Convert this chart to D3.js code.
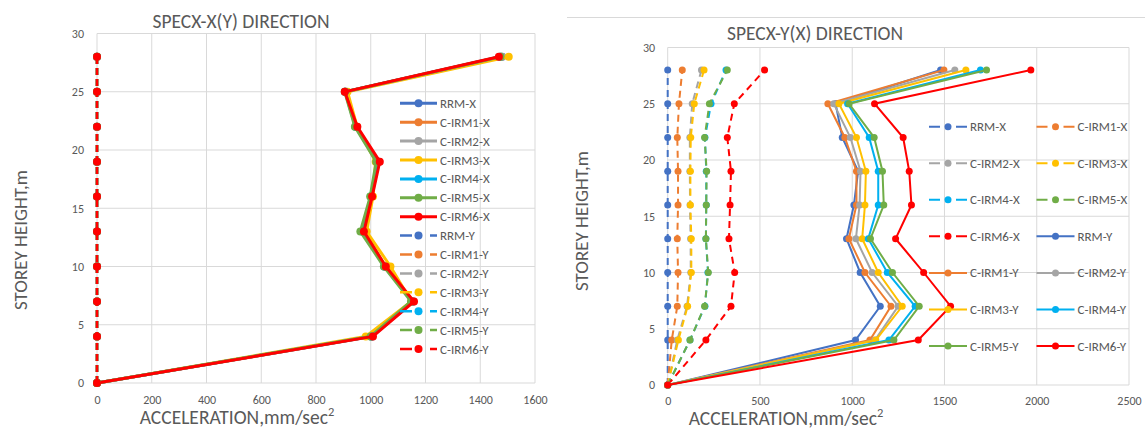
<!DOCTYPE html>
<html>
<head>
<meta charset="utf-8">
<script src="https://cdn.jsdelivr.net/npm/d3@7"></script>
<style>
  body { margin: 0; background: #fff; }
  svg text { font-family: Carlito, Lato, sans-serif; fill: #595959; }
</style>
</head>
<body>
<svg id="chart" width="1145" height="430"></svg>
<script>
// storey levels (m)
const heights = [0, 4, 7, 10, 13, 16, 19, 22, 25, 28];
const models = ["RRM", "C-IRM1", "C-IRM2", "C-IRM3", "C-IRM4", "C-IRM5", "C-IRM6"];
const colors = ["#4472c4", "#ed7d31", "#a5a5a5", "#ffc000", "#00b0f0", "#70ad47", "#ff0000"];

// SPECX-X(Y) : X direction
const leftRRM_X   = [0, 1005, 1155, 1050, 972, 1003, 1030, 948, 907, 1480];
const leftIRM1_X  = [0, 1003, 1153, 1052, 973, 1002, 1028, 947, 907, 1476];
const leftIRM2_X  = [0, 1000, 1150, 1055, 975, 1002, 1025, 946, 908, 1478];
const leftIRM3_X  = [0, 982, 1148, 1072, 985, 1008, 1018, 950, 915, 1504];
const leftIRM4_X  = [0, 1002, 1152, 1050, 968, 1000, 1024, 944, 906, 1472];
const leftIRM5_X  = [0, 1000, 1147, 1048, 962, 998, 1020, 942, 905, 1474];
const leftIRM6_X  = [0, 1008, 1158, 1055, 975, 1005, 1033, 951, 905, 1468];
// SPECX-X(Y) : Y direction
const leftRRM_Y   = [0, 0, 0, 0, 0, 0, 0, 0, 0, 0];
const leftIRM1_Y  = [0, 0, 0, 0, 0, 0, 0, 0, 0, 0];
const leftIRM2_Y  = [0, 0, 0, 0, 0, 0, 0, 0, 0, 0];
const leftIRM3_Y  = [0, 0, 0, 0, 0, 0, 0, 0, 0, 0];
const leftIRM4_Y  = [0, 0, 0, 0, 0, 0, 0, 0, 0, 0];
const leftIRM5_Y  = [0, 0, 0, 0, 0, 0, 0, 0, 0, 0];
const leftIRM6_Y  = [0, 0, 0, 0, 0, 0, 0, 0, 0, 0];

// SPECX-Y(X) : X direction
const rightRRM_X  = [0, 0, 0, 0, 0, 0, 0, 0, 0, 0];
const rightIRM1_X = [0, 22, 52, 56, 52, 56, 56, 52, 61, 79];
const rightIRM2_X = [0, 52, 105, 125, 124, 121, 120, 120, 133, 183];
const rightIRM3_X = [0, 58, 108, 128, 128, 123, 123, 125, 144, 197];
const rightIRM4_X = [0, 121, 202, 218, 207, 209, 209, 202, 235, 316];
const rightIRM5_X = [0, 121, 200, 220, 207, 209, 211, 200, 226, 323];
const rightIRM6_X = [0, 207, 343, 363, 332, 338, 343, 323, 361, 525];
// SPECX-Y(X) : Y direction
const rightRRM_Y  = [0, 1018, 1152, 1043, 969, 1009, 1032, 946, 910, 1479];
const rightIRM1_Y = [0, 1096, 1210, 1069, 982, 1023, 1023, 960, 868, 1497];
const rightIRM2_Y = [0, 1123, 1249, 1108, 1020, 1040, 1045, 990, 900, 1556];
const rightIRM3_Y = [0, 1128, 1271, 1141, 1054, 1069, 1074, 1023, 928, 1616];
const rightIRM4_Y = [0, 1199, 1341, 1190, 1087, 1141, 1141, 1092, 975, 1695];
const rightIRM5_Y = [0, 1226, 1363, 1218, 1099, 1171, 1164, 1119, 983, 1728];
const rightIRM6_Y = [0, 1358, 1533, 1387, 1235, 1321, 1309, 1276, 1121, 1968];

const yTicks = [0, 5, 10, 15, 20, 25, 30];
const leftXTicks = [0, 200, 400, 600, 800, 1000, 1200, 1400, 1600];
const rightXTicks = [0, 500, 1000, 1500, 2000, 2500];

const leftX = [leftRRM_X, leftIRM1_X, leftIRM2_X, leftIRM3_X, leftIRM4_X, leftIRM5_X, leftIRM6_X];
const leftY = [leftRRM_Y, leftIRM1_Y, leftIRM2_Y, leftIRM3_Y, leftIRM4_Y, leftIRM5_Y, leftIRM6_Y];
const rightX = [rightRRM_X, rightIRM1_X, rightIRM2_X, rightIRM3_X, rightIRM4_X, rightIRM5_X, rightIRM6_X];
const rightY = [rightRRM_Y, rightIRM1_Y, rightIRM2_Y, rightIRM3_Y, rightIRM4_Y, rightIRM5_Y, rightIRM6_Y];

const svg = d3.select("#chart");

function drawChart(cfg) {
    const g = svg.append("g");

    const x = d3.scaleLinear().domain([0, cfg.xTicks[cfg.xTicks.length - 1]]).range([cfg.left, cfg.right]);
    const y = d3.scaleLinear().domain([0, 30]).range([cfg.bottom, cfg.top]);

    // gridlines
    g.append("g").selectAll("line")
        .data(cfg.xTicks)
        .enter().append("line")
        .attr("x1", d => x(d)).attr("x2", d => x(d))
        .attr("y1", cfg.top).attr("y2", cfg.bottom)
        .attr("stroke", "#d9d9d9").attr("stroke-width", 1);
    g.append("g").selectAll("line")
        .data(yTicks)
        .enter().append("line")
        .attr("y1", d => y(d)).attr("y2", d => y(d))
        .attr("x1", cfg.left).attr("x2", cfg.right)
        .attr("stroke", "#d9d9d9").attr("stroke-width", 1);

    // axes
    g.append("g")
        .attr("transform", `translate(0,${cfg.bottom})`)
        .call(d3.axisBottom(x).tickValues(cfg.xTicks).tickFormat(d3.format("d")).tickSize(0).tickPadding(cfg.xPad));
    g.append("g")
        .attr("transform", `translate(${cfg.left},0)`)
        .call(d3.axisLeft(y).tickValues(yTicks).tickFormat(d3.format("d")).tickSize(0).tickPadding(cfg.yPad));
    g.selectAll(".domain").remove();
    g.selectAll(".tick text").style("font-size", "12px");

    // series
    const line = d3.line()
        .x(d => x(d.v))
        .y(d => y(d.h));

    cfg.series.forEach(s => {
        const pts = s.values.map((v, i) => ({v: v, h: heights[i]}));
        g.append("path")
            .datum(pts)
            .attr("fill", "none")
            .attr("stroke", s.color)
            .attr("stroke-width", s.dashed ? cfg.dashWidth : cfg.lineWidth)
            .attr("stroke-dasharray", s.dashed ? cfg.dash : null)
            .attr("d", line);
        g.selectAll(null)
            .data(pts)
            .enter().append("circle")
            .attr("cx", d => x(d.v))
            .attr("cy", d => y(d.h))
            .attr("r", cfg.r)
            .attr("fill", s.color);
    });

    // titles
    g.append("text")
        .attr("x", cfg.titleX).attr("y", cfg.titleY)
        .attr("text-anchor", "middle")
        .style("font-size", "19.5px")
        .text(cfg.title);

    const xl = g.append("text")
        .attr("x", cfg.xLabelX).attr("y", cfg.xLabelY)
        .attr("text-anchor", "middle")
        .style("font-size", "19.5px");
    xl.append("tspan").text("ACCELERATION,mm/sec");
    xl.append("tspan").attr("dy", -8).style("font-size", "12.5px").text("2");

    g.append("text")
        .attr("transform", `translate(${cfg.yLabelX},${cfg.yLabelY}) rotate(-90)`)
        .attr("text-anchor", "middle")
        .style("font-size", "19px")
        .text("STOREY HEIGHT,m");

    // legend
    cfg.series.forEach((s, i) => {
        const col = i % cfg.legCols, row = Math.floor(i / cfg.legCols);
        const lx = cfg.legX + col * cfg.legColGap;
        const ly = cfg.legY + row * cfg.legRowGap;
        g.append("line")
            .attr("x1", lx).attr("x2", lx + cfg.legLen)
            .attr("y1", ly).attr("y2", ly)
            .attr("stroke", s.color)
            .attr("stroke-width", s.dashed ? cfg.dashWidth : cfg.lineWidth)
            .attr("stroke-dasharray", s.dashed ? cfg.legDash : null);
        g.append("circle")
            .attr("cx", lx + cfg.legLen / 2).attr("cy", ly)
            .attr("r", cfg.r)
            .attr("fill", s.color);
        g.append("text")
            .attr("x", lx + cfg.legLen + 3).attr("y", ly + 4.5)
            .style("font-size", "13px")
            .text(s.name);
    });
}

const leftSeries = [];
models.forEach((m, i) => leftSeries.push({name: m + "-X", values: leftX[i], color: colors[i], dashed: false}));
models.forEach((m, i) => leftSeries.push({name: m + "-Y", values: leftY[i], color: colors[i], dashed: true}));

const rightSeries = [];
models.forEach((m, i) => rightSeries.push({name: m + "-X", values: rightX[i], color: colors[i], dashed: true}));
models.forEach((m, i) => rightSeries.push({name: m + "-Y", values: rightY[i], color: colors[i], dashed: false}));

drawChart({
    title: "SPECX-X(Y) DIRECTION", titleX: 241, titleY: 28,
    left: 97, right: 535, top: 33.5, bottom: 383,
    xTicks: leftXTicks, xPad: 12, yPad: 13,
    xLabelX: 237, xLabelY: 424, yLabelX: 27, yLabelY: 240,
    series: leftSeries, lineWidth: 3, dashWidth: 2.5, dash: "7,4", r: 4,
    legX: 400, legY: 103.3, legCols: 1, legColGap: 0, legRowGap: 18.9, legLen: 37, legDash: "12,18"
});

// chart area border of the second chart
svg.append("line")
    .attr("x1", 567).attr("x2", 1145)
    .attr("y1", 17.5).attr("y2", 17.5)
    .attr("stroke", "#d9d9d9");

drawChart({
    title: "SPECX-Y(X) DIRECTION", titleX: 815, titleY: 40,
    left: 667.7, right: 1129, top: 47.5, bottom: 385,
    xTicks: rightXTicks, xPad: 11, yPad: 12.5,
    xLabelX: 786, xLabelY: 425, yLabelX: 588, yLabelY: 221,
    series: rightSeries, lineWidth: 2, dashWidth: 2, dash: "7,5", r: 3.5,
    legX: 929, legY: 126.7, legCols: 2, legColGap: 107.5, legRowGap: 36.55, legLen: 38, legDash: "11,16"
});
</script>
</body>
</html>
